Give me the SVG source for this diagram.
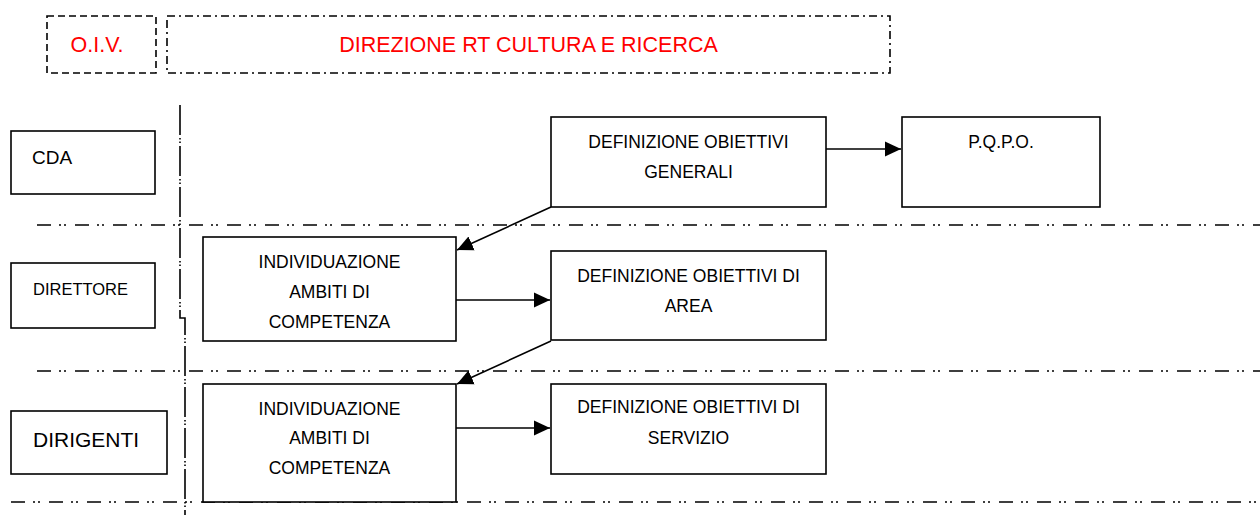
<svg xmlns="http://www.w3.org/2000/svg" width="1260" height="515" viewBox="0 0 1260 515">
<defs>
<style>
.box{fill:#fff;stroke:#000;stroke-width:1.6}
.t{font-family:"Liberation Sans",Arial,sans-serif;font-size:17.5px;fill:#000;text-anchor:middle}
.lbl{font-family:"Liberation Sans",Arial,sans-serif;fill:#000}
.red{font-family:"Liberation Sans",Arial,sans-serif;font-size:21.5px;fill:#ff0000;text-anchor:middle}
.lane{fill:none;stroke:#000;stroke-width:1.6;stroke-dasharray:14 8 2 3 2 9}
.vlane{fill:none;stroke:#000;stroke-width:1.6;stroke-dasharray:30 3 1.5 2 1.5 3}
.conn{fill:none;stroke:#000;stroke-width:1.6}
</style>
<marker id="arr" markerUnits="userSpaceOnUse" markerWidth="17" markerHeight="16" refX="16" refY="8" orient="auto">
<path d="M0,0.5 L16,8 L0,15.5 Z" fill="#000"/>
</marker>
</defs>
<rect width="1260" height="515" fill="#fff"/>

<g id="lanes">
<line class="lane" x1="37" y1="225" x2="1260" y2="225"/>
<line class="lane" x1="37" y1="371" x2="1260" y2="371"/>
<line class="lane" x1="11" y1="502" x2="1260" y2="502"/>
<path class="vlane" d="M180,105 V318 H185 V515"/>
</g>

<g id="oiv">
<rect x="47" y="16" width="109" height="57" fill="none" stroke="#000" stroke-width="1.6" stroke-dasharray="7 4"/>
<text class="red" x="97" y="52" font-size="23">O.I.V.</text>
</g>
<g id="direzione">
<rect x="167" y="16" width="723" height="57" fill="none" stroke="#000" stroke-width="1.6" stroke-dasharray="8 4 2 4"/>
<text class="red" x="528.5" y="52">DIREZIONE RT CULTURA E RICERCA</text>
</g>

<g id="cda">
<rect class="box" x="11" y="131" width="144" height="63"/>
<text class="lbl" x="32" y="164" font-size="19">CDA</text>
</g>
<g id="direttore">
<rect class="box" x="11" y="263" width="144" height="65"/>
<text class="lbl" x="33" y="295" font-size="16.5">DIRETTORE</text>
</g>
<g id="dirigenti">
<rect class="box" x="11" y="411" width="156" height="63"/>
<text class="lbl" x="33" y="447" font-size="21">DIRIGENTI</text>
</g>

<g id="def-generali">
<rect class="box" x="551" y="117" width="275" height="90"/>
<text class="t" x="688.5" y="148">DEFINIZIONE OBIETTIVI</text>
<text class="t" x="688.5" y="178">GENERALI</text>
</g>
<g id="pqpo">
<rect class="box" x="902" y="117" width="198" height="90"/>
<text class="t" x="1001" y="148">P.Q.P.O.</text>
</g>
<g id="ind-1">
<rect class="box" x="203" y="237" width="253" height="104"/>
<text class="t" x="329.5" y="268">INDIVIDUAZIONE</text>
<text class="t" x="329.5" y="298">AMBITI DI</text>
<text class="t" x="329.5" y="328">COMPETENZA</text>
</g>
<g id="def-area">
<rect class="box" x="551" y="251" width="275" height="89"/>
<text class="t" x="688.5" y="282">DEFINIZIONE OBIETTIVI DI</text>
<text class="t" x="688.5" y="312">AREA</text>
</g>
<g id="ind-2">
<rect class="box" x="203" y="384" width="253" height="118"/>
<text class="t" x="329.5" y="415">INDIVIDUAZIONE</text>
<text class="t" x="329.5" y="444">AMBITI DI</text>
<text class="t" x="329.5" y="474">COMPETENZA</text>
</g>
<g id="def-servizio">
<rect class="box" x="551" y="384" width="275" height="90"/>
<text class="t" x="688.5" y="413">DEFINIZIONE OBIETTIVI DI</text>
<text class="t" x="688.5" y="444">SERVIZIO</text>
</g>

<g id="connectors">
<line class="conn" x1="826" y1="149" x2="901" y2="149" marker-end="url(#arr)"/>
<line class="conn" x1="551" y1="207" x2="457" y2="250" marker-end="url(#arr)"/>
<line class="conn" x1="456" y1="300" x2="550" y2="300" marker-end="url(#arr)"/>
<line class="conn" x1="551" y1="341" x2="457" y2="384" marker-end="url(#arr)"/>
<line class="conn" x1="456" y1="428" x2="550" y2="428" marker-end="url(#arr)"/>
</g>
</svg>
